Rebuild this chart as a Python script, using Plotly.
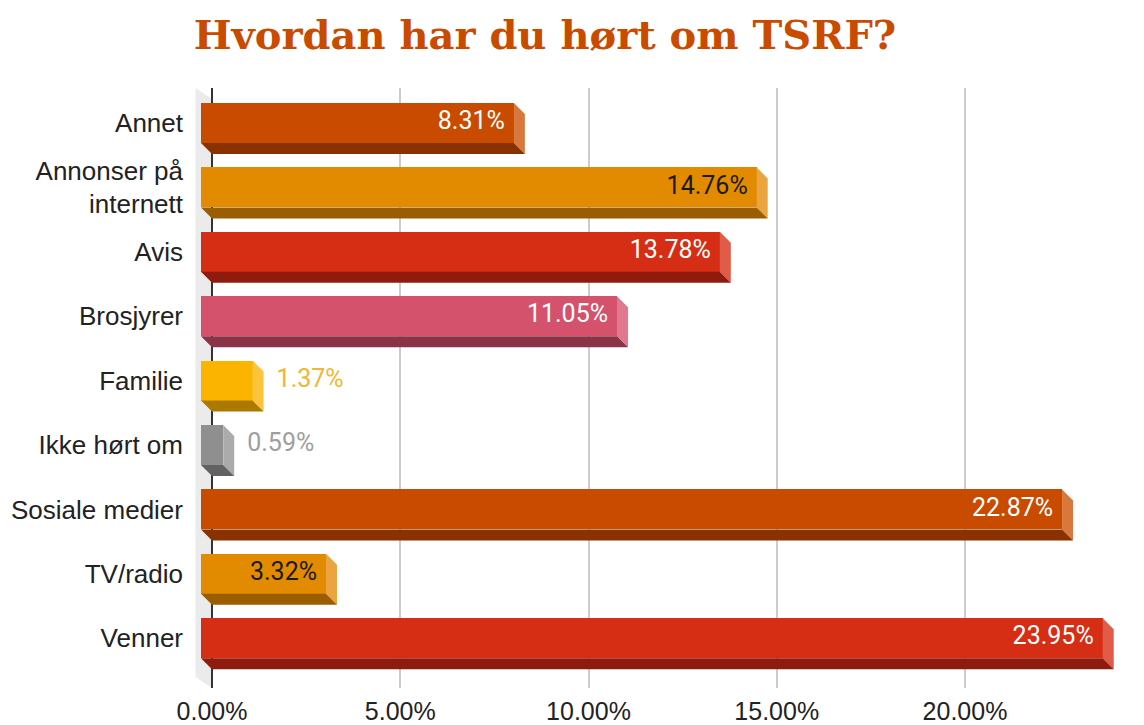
import plotly.graph_objects as go

categories = ["Annet", "Annonser på<br>internett", "Avis", "Brosjyrer", "Familie",
              "Ikke hørt om", "Sosiale medier", "TV/radio", "Venner"]
values = [8.31, 14.76, 13.78, 11.05, 1.37, 0.59, 22.87, 3.32, 23.95]
x_ticks = [0, 5, 10, 15, 20]
x_tick_labels = ["0.00%", "5.00%", "10.00%", "15.00%", "20.00%"]

front_colors = ["#c84b00", "#e38b00", "#d62e14", "#d4526c", "#fbb400", "#8f8f8f"]
bottom_colors = ["#8a3100", "#9a5d00", "#8e1b0e", "#8c3447", "#ab7800", "#626262"]
side_colors = ["#d9783d", "#eba540", "#e05c48", "#e07890", "#fcc43c", "#ababab"]
inside_text_colors = ["#ffffff", "#1a1a1a", "#ffffff", "#ffffff", "#1a1a1a", "#ffffff"]
outside_text_colors = ["#d9783d", "#eba540", "#e05c48", "#e07890", "#f2b534", "#9e9e9e"]

# the page body adds an 8px margin, so the figure is laid out 8px smaller
OFF = 8
W, H = 1144 - OFF, 725 - OFF
L, T = 190 - OFF, 88 - OFF
R = W - (1130 - OFF)
B = H - (688 - OFF)
plot_w = W - L - R
plot_h = H - T - B
px_per_x = 37.65
x_min = -((212 - OFF) - L) / px_per_x
x_max = x_min + plot_w / px_per_x
px_per_y = 64.4
y_top = -((123 - OFF) - T) / px_per_y
y_bot = y_top + plot_h / px_per_y

dx = 11 / px_per_x
dy = 11 / px_per_y
bh = 40 / px_per_y

n = len(categories)
ys = list(range(n))
cidx = [i % len(front_colors) for i in range(n)]

fig = go.Figure()

# front faces
fig.add_trace(go.Bar(
    y=ys, x=values, base=[-dx] * n, orientation="h", width=bh,
    marker=dict(color=[front_colors[c] for c in cidx], line=dict(width=0)),
    hoverinfo="skip", showlegend=False,
))

# side and bottom faces
for i, v in enumerate(values):
    c = cidx[i]
    top = i - bh / 2
    bot = i + bh / 2
    fig.add_trace(go.Scatter(
        x=[v - dx, v, v, v - dx, v - dx],
        y=[top, top + dy, bot + dy, bot, top],
        fill="toself", fillcolor=side_colors[c], mode="lines",
        line=dict(width=0, color=side_colors[c]), hoverinfo="skip", showlegend=False,
    ))
    fig.add_trace(go.Scatter(
        x=[-dx, v - dx, v, 0, -dx],
        y=[bot, bot, bot + dy, bot + dy, bot],
        fill="toself", fillcolor=bottom_colors[c], mode="lines",
        line=dict(width=0, color=bottom_colors[c]), hoverinfo="skip", showlegend=False,
    ))

# value labels
in_x, in_y, in_t, in_c = [], [], [], []
out_x, out_y, out_t, out_c = [], [], [], []
for i, v in enumerate(values):
    c = cidx[i]
    label = f"{v:.2f}%"
    if v < 2:
        out_x.append(v + 13 / px_per_x)
        out_y.append(i)
        out_t.append(label)
        out_c.append(outside_text_colors[c])
    else:
        in_x.append(v - dx - 9 / px_per_x)
        in_y.append(i)
        in_t.append(label)
        in_c.append(inside_text_colors[c])

fig.add_trace(go.Scatter(
    x=in_x, y=in_y, text=in_t, mode="text", textposition="middle left",
    textfont=dict(family="Roboto", size=25, color=in_c),
    hoverinfo="skip", showlegend=False,
))
fig.add_trace(go.Scatter(
    x=out_x, y=out_y, text=out_t, mode="text", textposition="middle right",
    textfont=dict(family="Roboto", size=25, color=out_c),
    hoverinfo="skip", showlegend=False,
))

# left wall
wx0 = -1.5 * dx
fig.add_shape(
    type="path", xref="x", yref="y", layer="below",
    path=f"M {wx0},{y_top} L 0,{y_top + dy} L 0,{y_bot} L {wx0},{y_bot - dy} Z",
    fillcolor="#ebebeb", line=dict(width=0),
)

fig.update_layout(
    width=W, height=H,
    margin=dict(l=L, r=R, t=T, b=B, pad=0, autoexpand=False),
    paper_bgcolor="white", plot_bgcolor="white",
    title=dict(
        text="<b>Hvordan har du hørt om TSRF?</b>",
        font=dict(family="DejaVu Serif", size=40, color="#c84b00"),
        x=(545 - OFF) / W, xanchor="center", xref="container",
        y=1 - (35 - OFF) / H, yanchor="middle", yref="container",
    ),
    bargap=0,
    xaxis=dict(
        range=[x_min, x_max], tickvals=x_ticks, ticktext=x_tick_labels,
        showgrid=True, gridcolor="#cccccc", gridwidth=1.5,
        zeroline=True, zerolinecolor="#333333", zerolinewidth=2,
        showline=False, ticks="", ticklabelstandoff=6, automargin=False,
        tickfont=dict(family="Liberation Sans", size=25, color="#222222"),
        fixedrange=True,
    ),
    yaxis=dict(
        range=[y_bot, y_top], tickvals=ys, ticktext=categories,
        showgrid=False, zeroline=False, showline=False, ticks="",
        ticklabelstandoff=6, automargin=False,
        tickfont=dict(family="Liberation Sans", size=26, color="#222222"),
        fixedrange=True,
    ),
)

fig.write_html("out.html")
